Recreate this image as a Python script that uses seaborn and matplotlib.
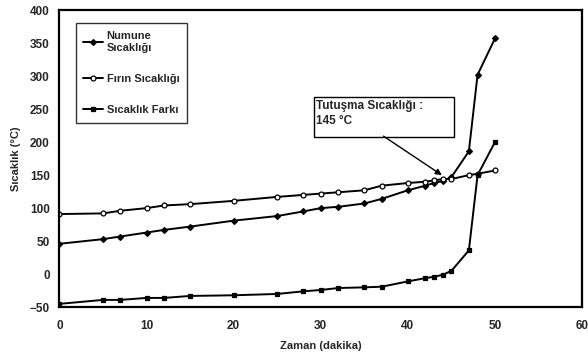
import matplotlib
matplotlib.use("Agg")
import matplotlib.pyplot as plt
import pandas as pd
import seaborn as sns
from matplotlib.patches import Rectangle

# --- Data ---
zaman = [0, 5, 7, 10, 12, 15, 20, 25, 28, 30, 32, 35, 37, 40, 42, 43, 44, 45, 47, 48, 50]
numune = [46, 53, 57, 63, 67, 72, 81, 88, 95, 100, 102, 107, 114, 127, 134, 138, 141, 147, 186, 302, 357]
firin = [91, 92, 96, 100, 104, 106, 111, 117, 120, 122, 124, 127, 134, 138, 140, 142, 144, 144, 150, 152, 157]
fark = [-45, -39, -39, -36, -36, -33, -32, -30, -26, -24, -21, -20, -19, -11, -6, -4, -1, 5, 36, 150, 200]

labels = ["Numune\nSıcaklığı", "Fırın Sıcaklığı", "Sıcaklık Farkı"]
x_ticks = [0, 10, 20, 30, 40, 50, 60]
y_ticks = [-50, 0, 50, 100, 150, 200, 250, 300, 350, 400]

df = pd.DataFrame({"zaman": zaman, "numune": numune, "firin": firin, "fark": fark})

sns.set_theme(style="white")
plt.rcParams["font.family"] = ["Liberation Sans", "DejaVu Sans"]

fig = plt.figure(figsize=(5.88, 3.58), dpi=100)
ax = fig.add_axes([0.101, 0.142, 0.889, 0.830])

styles = [
    ("numune", labels[0], dict(marker="D", markersize=3, markerfacecolor="black")),
    ("firin", labels[1], dict(marker="o", markersize=3.5, markerfacecolor="white")),
    ("fark", labels[2], dict(marker="s", markersize=3, markerfacecolor="black")),
]
for col, lab, kw in styles:
    sns.lineplot(data=df, x="zaman", y=col, ax=ax, color="black", linewidth=1.4,
                 markeredgecolor="black", markeredgewidth=0.9, label=lab, **kw)

ax.set_xlim(0, 60)
ax.set_ylim(-50, 400)
ax.set_xticks(x_ticks)
ax.set_yticks(y_ticks)
ax.tick_params(axis="both", direction="out", length=3, width=1, color="black",
               labelsize=8.5)
ax.tick_params(axis="x", pad=6)
ax.tick_params(axis="y", pad=4)
for t in ax.get_xticklabels() + ax.get_yticklabels():
    t.set_fontweight("bold")
for s in ax.spines.values():
    s.set_color("black")
    s.set_linewidth(1.6)

ax.set_xlabel("Zaman (dakika)", fontsize=8, fontweight="bold", labelpad=7)
ax.set_ylabel("Sıcaklık (°C)", fontsize=8, fontweight="bold", labelpad=6)

leg = ax.legend(loc="upper left", bbox_to_anchor=(0.031, 0.955), fontsize=8,
                frameon=True, fancybox=False, edgecolor="black", handlelength=1.8,
                handletextpad=0.3, labelspacing=1.9, borderpad=0.7,
                borderaxespad=0)
leg.get_frame().set_linewidth(1.0)
for t in leg.get_texts():
    t.set_fontweight("bold")

# annotation text box and arrow
ax.add_patch(Rectangle((29.2, 208), 16.1, 60.5, facecolor="white", edgecolor="black",
                       linewidth=1.0, zorder=4))
ax.text(29.5, 243, "Tutuşma Sıcaklığı :\n145 °C", fontsize=8.5, fontweight="bold",
        ha="left", va="center", linespacing=1.3, zorder=5)
ax.annotate("", xy=(43.9, 150), xytext=(37.2, 209),
            arrowprops=dict(arrowstyle="-|>", color="black", lw=1.0, shrinkA=0, shrinkB=0,
                            mutation_scale=9), zorder=5)

fig.savefig("out.png", dpi=100)
